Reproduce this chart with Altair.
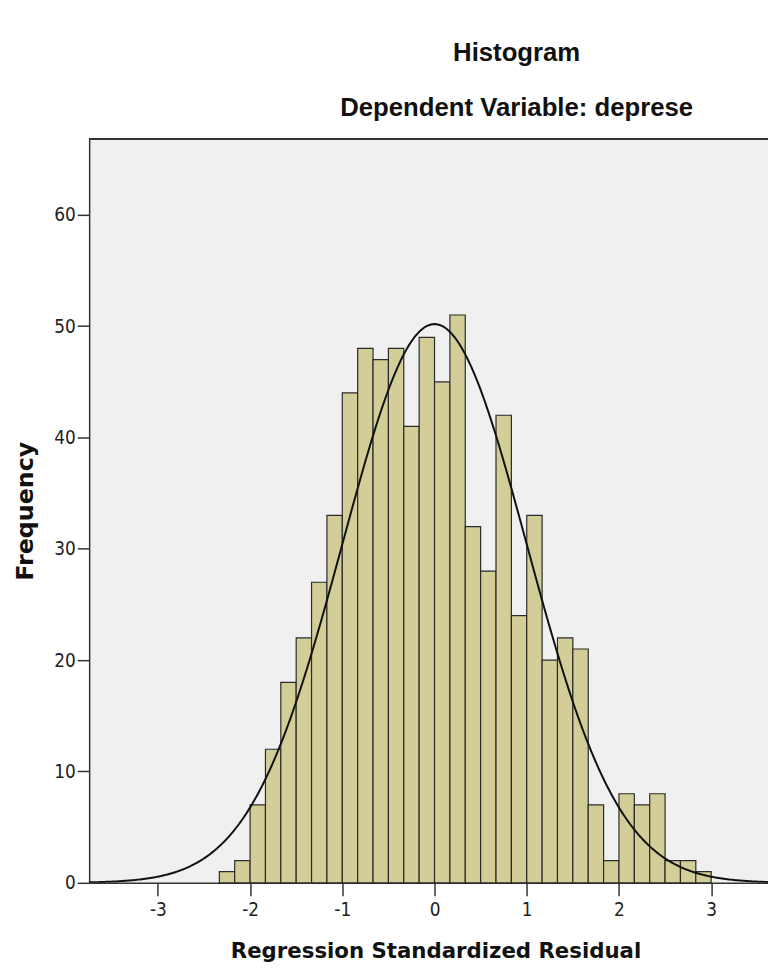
import altair as alt
import numpy as np
import pandas as pd

# ---- data ----
counts = [1, 2, 7, 12, 18, 22, 27, 33,
          44, 48, 47, 48, 41, 49, 45, 51,
          32, 28, 42, 24, 33, 20, 22, 21,
          7, 2, 8, 7, 8, 2, 2, 1]
first_edge = -7 / 3          # left edge of first bin
bin_width = 1 / 6
x_ticks = [-3, -2, -1, 0, 1, 2, 3]
y_ticks = [0, 10, 20, 30, 40, 50, 60]
fit_mean = 0.0
fit_sd = 0.999
n_total = sum(counts)
x_domain = [-3.745, 3.616]
y_domain = [0, 66.84]

bins = pd.DataFrame({
    "start": [first_edge + i * bin_width for i in range(len(counts))],
    "count": counts,
})
bins["end"] = bins["start"] + bin_width

# fitted normal curve (as drawn by SPSS)
xs = np.linspace(x_domain[0], x_domain[1], 400)
ys = n_total * bin_width / (fit_sd * np.sqrt(2 * np.pi)) * np.exp(-0.5 * ((xs - fit_mean) / fit_sd) ** 2)
curve = pd.DataFrame({"x": xs, "y": ys})

LABEL_FONT = "Liberation Sans Narrow, DejaVu Sans Condensed, sans-serif"
AX_COLOR = "#333333"
W, H = 686, 752

xscale = alt.Scale(domain=x_domain, nice=False, zero=False)
yscale = alt.Scale(domain=y_domain, nice=False)

bars = alt.Chart(bins).mark_bar(
    fill="#D3CE97", stroke="#2b2b2b", strokeWidth=1.2
).encode(
    x=alt.X("start:Q", scale=xscale,
            axis=alt.Axis(values=x_ticks, title="Regression Standardized Residual",
                          labelExpr="'' + datum.value", grid=False, tickSize=13, tickWidth=1.5,
                          tickColor=AX_COLOR, domainColor=AX_COLOR, domainWidth=1.5,
                          labelFont=LABEL_FONT, labelFontSize=19, labelColor="#222",
                          labelPadding=5,
                          titleFont="DejaVu Sans", titleFontSize=21.5, titleFontWeight="bold",
                          titleColor="#111", titleX=350, titleY=75,
                          titleBaseline="alphabetic", titleAlign="center")),
    x2="end:Q",
    y=alt.Y("count:Q", scale=yscale,
            axis=alt.Axis(values=y_ticks, title="Frequency", grid=False,
                          tickSize=12, tickWidth=1.5, tickColor=AX_COLOR,
                          domainColor=AX_COLOR, domainWidth=1.5,
                          labelFont=LABEL_FONT, labelFontSize=19, labelColor="#222",
                          labelPadding=2,
                          titleFont="DejaVu Sans", titleFontSize=24, titleFontWeight="bold",
                          titleColor="#111", titleX=-57, titleY=376,
                          titleBaseline="alphabetic", titleAlign="center", titleAngle=270)),
    y2=alt.datum(0),
)

line = alt.Chart(curve).mark_line(color="#111111", strokeWidth=2, clip=True).encode(
    x=alt.X("x:Q", scale=xscale),
    y=alt.Y("y:Q", scale=yscale),
)

# top frame line of the plot area
top_border = alt.Chart(bins).mark_rule(color=AX_COLOR, strokeWidth=1.5).encode(
    x=alt.value(0), x2=alt.value(W), y=alt.value(0)
)

chart = alt.layer(bars, line, top_border).properties(
    width=W,
    height=H,
    background="white",
    autosize=alt.AutoSizeParams(type="none"),
    padding={"left": 82, "top": 127, "right": 0, "bottom": 78},
    title=alt.TitleParams(
        text="Histogram",
        subtitle="Dependent Variable: deprese",
        font="Liberation Sans", fontSize=26, fontWeight="bold", color="#111",
        subtitleFont="Liberation Sans", subtitleFontSize=26, subtitleFontWeight="bold",
        subtitleColor="#111",
        subtitlePadding=30, anchor="middle", dx=89, offset=17,
    ),
).configure_view(
    fill="#F0F0F0", strokeWidth=0
)

chart.save("out.html", embed_options={"renderer": "svg", "actions": False})
